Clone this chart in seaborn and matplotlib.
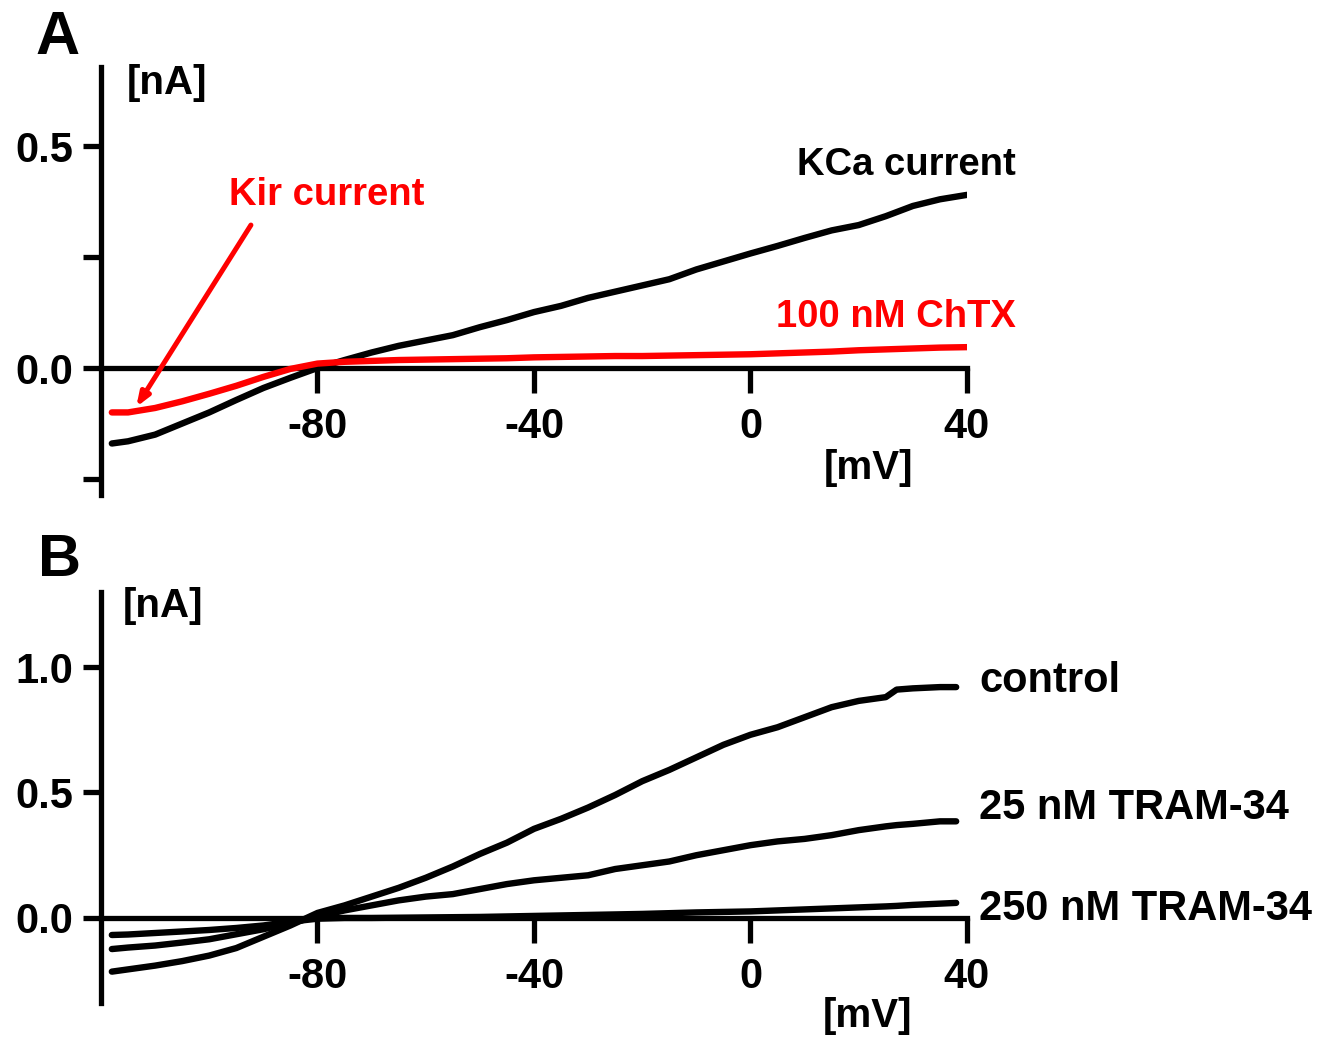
import numpy as np
import pandas as pd
import matplotlib
matplotlib.use("Agg")
import matplotlib.pyplot as plt
import seaborn as sns

# ---------------- data ----------------
# Panel A
mv_a = [-118, -115, -110, -105, -100, -95, -90, -85, -80, -75, -70, -65, -60, -55,
        -50, -45, -40, -35, -30, -25, -20, -15, -10, -5, 0, 5, 10, 15, 20, 25, 30, 35, 40]
kca_current = [-0.170, -0.165, -0.150, -0.125, -0.100, -0.072, -0.045, -0.022, 0.000,
               0.018, 0.035, 0.050, 0.062, 0.074, 0.092, 0.108, 0.126, 0.140, 0.158,
               0.172, 0.186, 0.200, 0.222, 0.240, 0.258, 0.275, 0.293, 0.310, 0.322,
               0.342, 0.365, 0.380, 0.390]
chtx_current = [-0.100, -0.100, -0.090, -0.075, -0.058, -0.040, -0.020, -0.002, 0.010,
                0.014, 0.016, 0.018, 0.019, 0.020, 0.021, 0.022, 0.024, 0.025, 0.026,
                0.027, 0.027, 0.028, 0.029, 0.030, 0.031, 0.033, 0.035, 0.037, 0.040,
                0.042, 0.044, 0.046, 0.047]

# Panel B
mv_b = [-118, -115, -110, -105, -100, -95, -90, -85, -80, -75, -70, -65, -60, -55,
        -50, -45, -40, -35, -30, -25, -20, -15, -10, -5, 0, 5, 10, 15, 20, 25, 27, 30, 35, 38]
control = [-0.214, -0.205, -0.190, -0.172, -0.150, -0.120, -0.075, -0.030, 0.020,
           0.050, 0.085, 0.120, 0.160, 0.205, 0.255, 0.300, 0.355, 0.395, 0.440,
           0.490, 0.545, 0.590, 0.640, 0.690, 0.730, 0.760, 0.800, 0.840, 0.865,
           0.880, 0.910, 0.915, 0.920, 0.920]
tram25 = [-0.124, -0.118, -0.110, -0.098, -0.085, -0.065, -0.045, -0.020, 0.005,
          0.030, 0.050, 0.070, 0.085, 0.095, 0.115, 0.135, 0.150, 0.160, 0.170,
          0.195, 0.210, 0.225, 0.250, 0.270, 0.290, 0.305, 0.315, 0.330, 0.350,
          0.365, 0.370, 0.375, 0.385, 0.385]
tram250 = [-0.068, -0.066, -0.060, -0.054, -0.048, -0.040, -0.030, -0.015, -0.003,
           0.000, 0.000, 0.001, 0.002, 0.003, 0.004, 0.006, 0.008, 0.010, 0.012,
           0.014, 0.016, 0.019, 0.022, 0.024, 0.026, 0.030, 0.034, 0.038, 0.042,
           0.046, 0.048, 0.052, 0.057, 0.060]

x_ticks = [-80, -40, 0, 40]
x_ticklabels = ["-80", "-40", "0", "40"]
ya_ticks = [-0.25, 0.0, 0.25, 0.5]
ya_ticklabels = ["", "0.0", "", "0.5"]
yb_ticks = [0.0, 0.5, 1.0]
yb_ticklabels = ["0.0", "0.5", "1.0"]

# ---------------- style ----------------
sns.set_style("white")
plt.rcParams['font.family'] = ['Liberation Sans', 'DejaVu Sans']
plt.rcParams['font.weight'] = 'bold'
for k in ['text.color', 'axes.labelcolor', 'xtick.color', 'ytick.color', 'axes.edgecolor']:
    plt.rcParams[k] = 'black'

W, H = 1333, 1040
fig = plt.figure(figsize=(W / 100, H / 100), dpi=100)


def px_axes(left, top, right, bottom):
    return fig.add_axes([left / W, 1 - bottom / H, (right - left) / W, (bottom - top) / H])


def ftext(x, y, s, **kw):
    fig.text(x / W, 1 - y / H, s, fontweight='bold', **kw)


RED = "#ff0000"
LW = 4.6
SW = 3.8

axA = px_axes(101, 67, 967, 495)
axB = px_axes(101, 592, 967, 1003)

dfA = pd.DataFrame({"mV": mv_a, "KCa": kca_current, "ChTX": chtx_current})
sns.lineplot(data=dfA, x="mV", y="KCa", ax=axA, color="black", lw=LW,
             estimator=None, sort=False, zorder=3)
sns.lineplot(data=dfA, x="mV", y="ChTX", ax=axA, color=RED, lw=LW,
             estimator=None, sort=False, zorder=4)

dfB = pd.DataFrame({"mV": mv_b, "control": control, "tram25": tram25, "tram250": tram250})
for col in ["control", "tram25", "tram250"]:
    sns.lineplot(data=dfB, x="mV", y=col, ax=axB, color="black", lw=LW,
                 estimator=None, sort=False, zorder=3)

for ax, ylim, yt, ytl in [(axA, (-0.286, 0.678), ya_ticks, ya_ticklabels),
                          (axB, (-0.339, 1.299), yb_ticks, yb_ticklabels)]:
    ax.set_xlim(-120, 40)
    ax.set_ylim(*ylim)
    ax.set_xlabel("")
    ax.set_ylabel("")
    ax.patch.set_alpha(0)
    for s in ["top", "right"]:
        ax.spines[s].set_visible(False)
    ax.spines["bottom"].set_position(("data", 0))
    ax.spines["bottom"].set_bounds(-120, 40)
    for s in ["bottom", "left"]:
        ax.spines[s].set_linewidth(SW)
        ax.spines[s].set_color("black")
        ax.spines[s].set_zorder(2)
    ax.set_xticks(x_ticks)
    ax.set_xticklabels(x_ticklabels)
    ax.set_yticks(yt)
    ax.set_yticklabels(ytl)
    ax.tick_params(axis="x", direction="out", length=18, width=SW, pad=10,
                   labelsize=30, color="black", labelcolor="black", bottom=True)
    ax.tick_params(axis="y", direction="out", length=13, width=SW, pad=7,
                   labelsize=30, color="black", labelcolor="black", left=True)
    for lab in ax.get_xticklabels() + ax.get_yticklabels():
        lab.set_fontweight("bold")

# arrow pointing at the Kir component
axA.annotate("", xy=(-113.5, -0.088), xytext=(-92.3, 0.322),
             arrowprops=dict(arrowstyle="-|>,head_length=0.8,head_width=0.3",
                             color=RED, lw=3.6, shrinkA=0, shrinkB=0))

# labels
ftext(35, 38, "A", fontsize=44, va="center", ha="left")
ftext(38, 561, "B", fontsize=43, va="center", ha="left")
ftext(127, 83, "[nA]", fontsize=29, va="center", ha="left")
ftext(868, 468, "[mV]", fontsize=29, va="center", ha="center")
ftext(123, 606, "[nA]", fontsize=29, va="center", ha="left")
ftext(867, 1016, "[mV]", fontsize=29, va="center", ha="center")

ftext(229, 195, "Kir current", fontsize=27.5, va="center", ha="left", color=RED)
ftext(1016, 165, "KCa current", fontsize=27.5, va="center", ha="right", color="black")
ftext(1016, 317, "100 nM ChTX", fontsize=27.5, va="center", ha="right", color=RED)

ftext(979, 681, "control", fontsize=30, va="center", ha="left")
ftext(979, 808, "25 nM TRAM-34", fontsize=30, va="center", ha="left")
ftext(979, 909, "250 nM TRAM-34", fontsize=30, va="center", ha="left")

fig.savefig("out.png", dpi=100)
